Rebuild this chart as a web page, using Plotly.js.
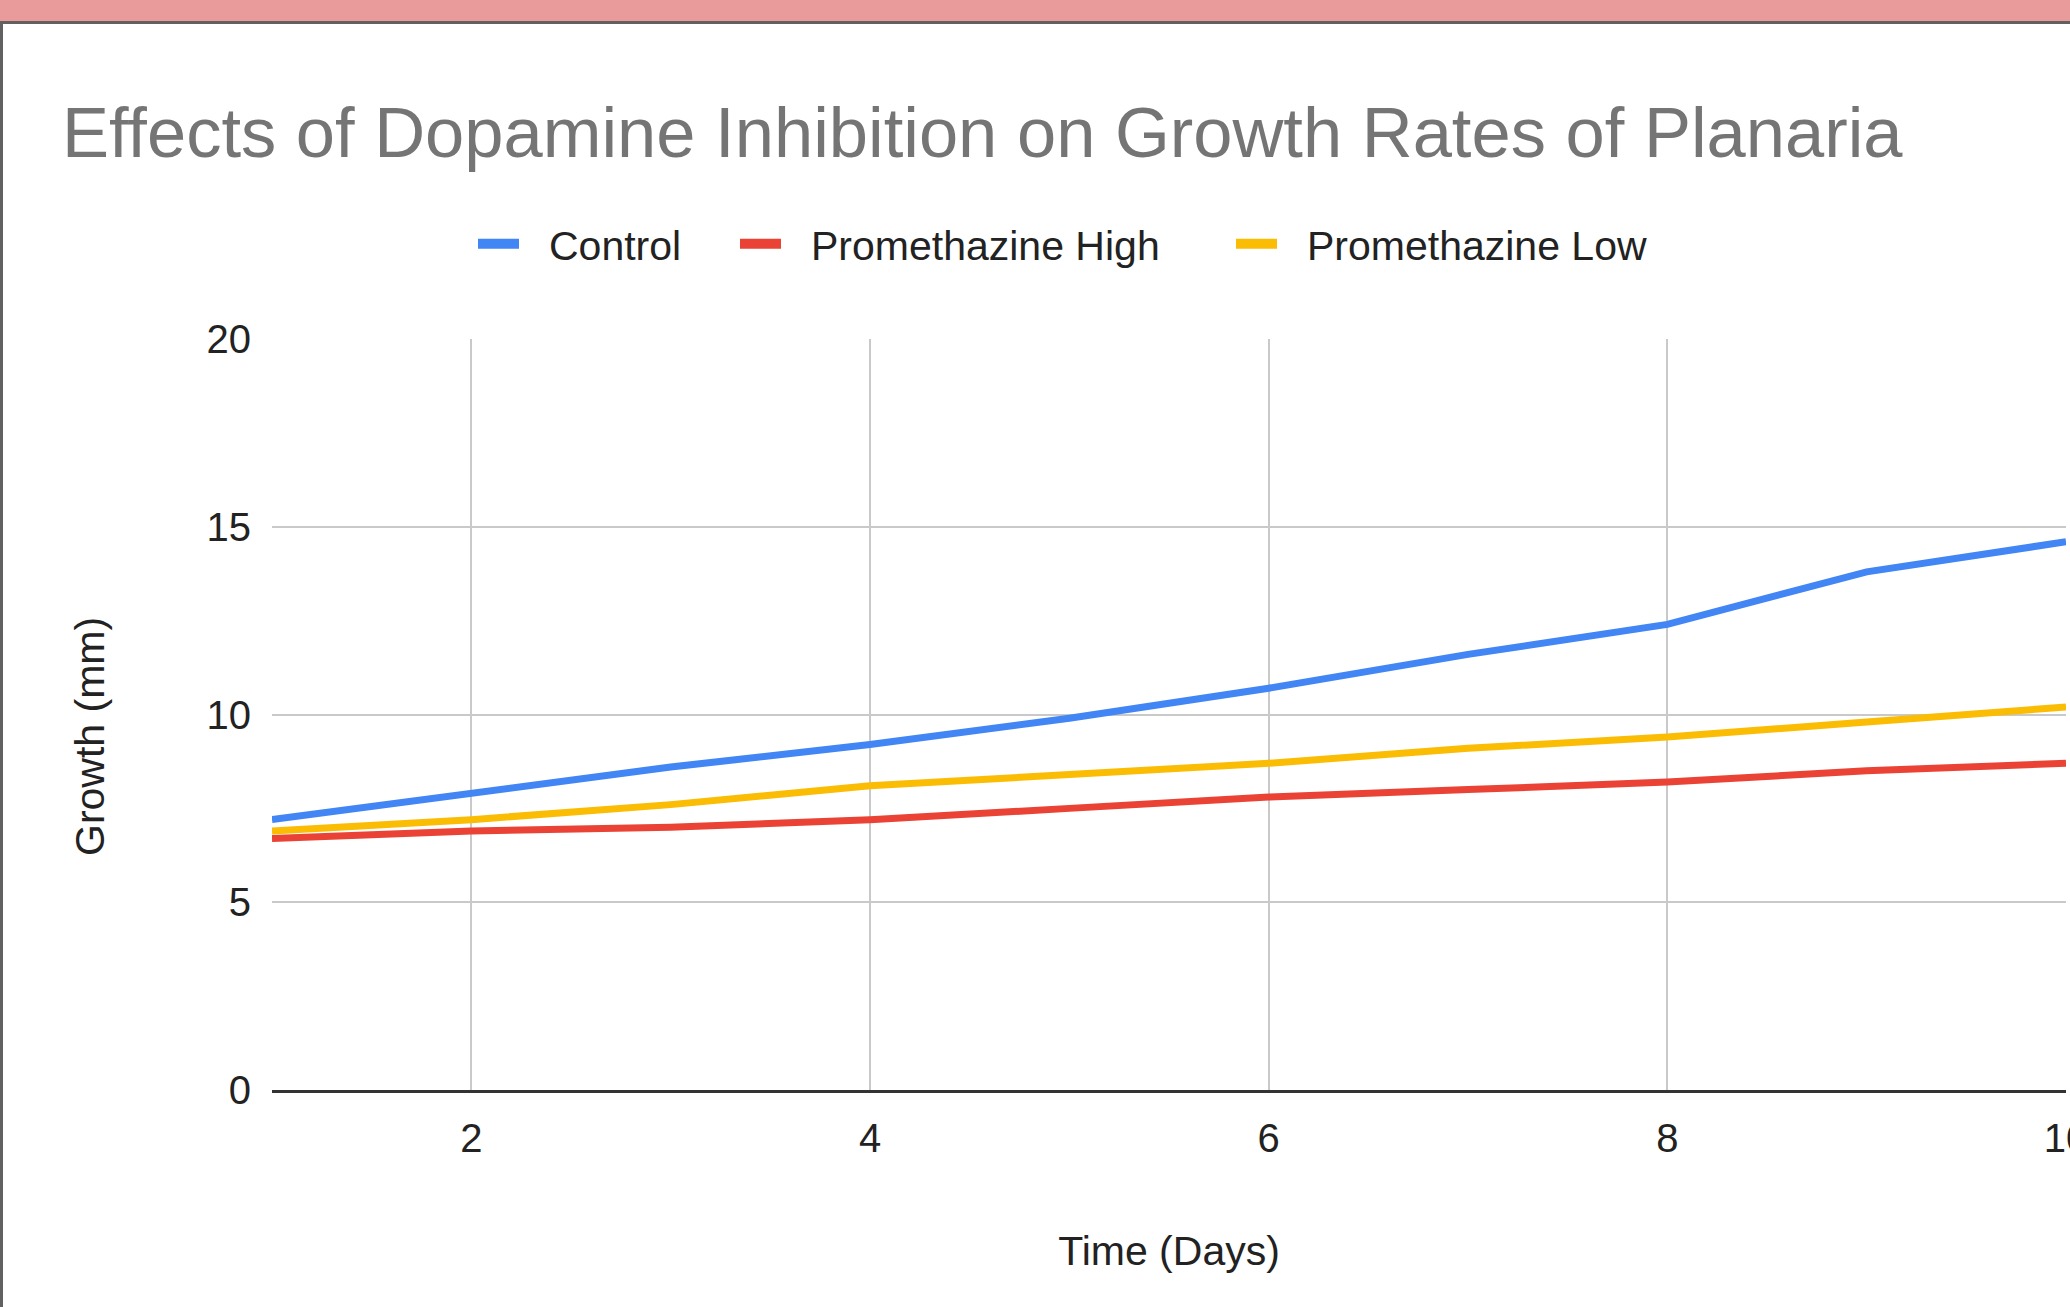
<!DOCTYPE html>
<html>
<head>
<meta charset="utf-8">
<script src="https://cdn.plot.ly/plotly-3.0.1.min.js"></script>
<style>
  html, body { margin: 0; padding: 0; background: #ffffff; overflow: hidden; }
  #chart { position: absolute; left: 0; top: 0; width: 2070px; height: 1307px; }
  #topbar { position: absolute; left: 0; top: 0; width: 2070px; height: 21px; background: #e99a9b; border-bottom: 3px solid #616161; z-index: 5; }
  #leftborder { position: absolute; left: 0; top: 24px; width: 3px; height: 1283px; background: #616161; z-index: 5; }
</style>
</head>
<body>
<div id="chart"></div>
<div id="topbar"></div>
<div id="leftborder"></div>
<script>
// Data
const days = [1, 2, 3, 4, 5, 6, 7, 8, 9, 10];
const control = [7.2, 7.9, 8.6, 9.2, 9.9, 10.7, 11.6, 12.4, 13.8, 14.6];
const promethazineHigh = [6.7, 6.9, 7.0, 7.2, 7.5, 7.8, 8.0, 8.2, 8.5, 8.7];
const promethazineLow = [6.9, 7.2, 7.6, 8.1, 8.4, 8.7, 9.1, 9.4, 9.8, 10.2];
const seriesNames = ["Control", "Promethazine High", "Promethazine Low"];
const seriesColors = ["#4285f4", "#ea4335", "#fbbc04"];
const xTicks = [2, 4, 6, 8, 10];
const yTicks = [0, 5, 10, 15, 20];

const FONT = "Liberation Sans, Arial, Helvetica, sans-serif";
const allSeries = [control, promethazineHigh, promethazineLow];

// plot area geometry (pixels)
const W = 2070, H = 1307;
const M = { l: 272, r: 4, t: 339, b: 217 };
const plotW = W - M.l - M.r, plotH = H - M.t - M.b;

const legendNames = ["legend", "legend2", "legend3"];
const legendTextX = [549, 811, 1307];   // where each legend label starts
const legendCenterY = 244;
const ITEMW = 66;                       // legend symbol area width

const traces = [];
allSeries.forEach((vals, i) => {
  traces.push({
    type: "scatter", mode: "lines", x: days, y: vals,
    name: seriesNames[i], showlegend: false,
    line: { color: seriesColors[i], width: 7 },
    hoverinfo: "x+y+name"
  });
});
// legend swatches: thick short bar followed by a gap before the label
allSeries.forEach((vals, i) => {
  traces.push({
    type: "scatter", mode: "lines", x: [null], y: [null],
    name: seriesNames[i], showlegend: true, legend: legendNames[i],
    line: { color: seriesColors[i], width: 12, dash: "41px,200px" }
  });
});

const layout = {
  width: W, height: H,
  paper_bgcolor: "#ffffff", plot_bgcolor: "#ffffff",
  margin: { l: M.l, r: M.r, t: M.t, b: M.b, pad: 0 },
  font: { family: FONT, color: "#222222", size: 40 },
  title: {
    text: "Effects of Dopamine Inhibition on Growth Rates of Planaria",
    font: { family: FONT, size: 70.5, color: "#757575" },
    xref: "container", yref: "container",
    x: 62 / W, xanchor: "left",
    y: 1 - 132 / H, yanchor: "middle"
  },
  showlegend: true,
  xaxis: {
    range: [1, 10],
    tickmode: "array", tickvals: xTicks, ticktext: xTicks.map(String),
    showgrid: true, gridcolor: "#c9c9c9", gridwidth: 2,
    zeroline: false,
    showline: true, linecolor: "#333333", linewidth: 3,
    ticks: "", ticklabelstandoff: 11, ticklabeloverflow: "allow",
    tickfont: { family: FONT, size: 40, color: "#222222" },
    title: { text: "Time (Days)", font: { family: FONT, size: 41, color: "#222222" }, standoff: 78 },
    fixedrange: true
  },
  yaxis: {
    range: [0, 20],
    tickmode: "array", tickvals: yTicks, ticktext: yTicks.map(String),
    showgrid: true, gridcolor: "#c9c9c9", gridwidth: 2,
    zeroline: false, showline: false,
    ticks: "", ticklabelstandoff: 20,
    tickfont: { family: FONT, size: 40, color: "#222222" },
    fixedrange: true
  },
  annotations: [{
    text: "Growth (mm)", textangle: -90,
    xref: "paper", yref: "paper",
    x: (90 - M.l) / plotW, y: 1 - (737 - M.t) / plotH,
    xanchor: "center", yanchor: "middle", showarrow: false,
    font: { family: FONT, size: 41, color: "#222222" }
  }]
};

legendNames.forEach((ln, i) => {
  layout[ln] = {
    orientation: "h",
    x: (legendTextX[i] - (ITEMW + 10) - M.l) / plotW, xanchor: "left",
    y: 1 + (M.t - legendCenterY) / plotH, yanchor: "middle",
    font: { family: FONT, size: 41, color: "#222222" },
    itemwidth: ITEMW,
    bgcolor: "rgba(0,0,0,0)"
  };
});

Plotly.newPlot("chart", traces, layout, { displayModeBar: false, staticPlot: true });
</script>
</body>
</html>
